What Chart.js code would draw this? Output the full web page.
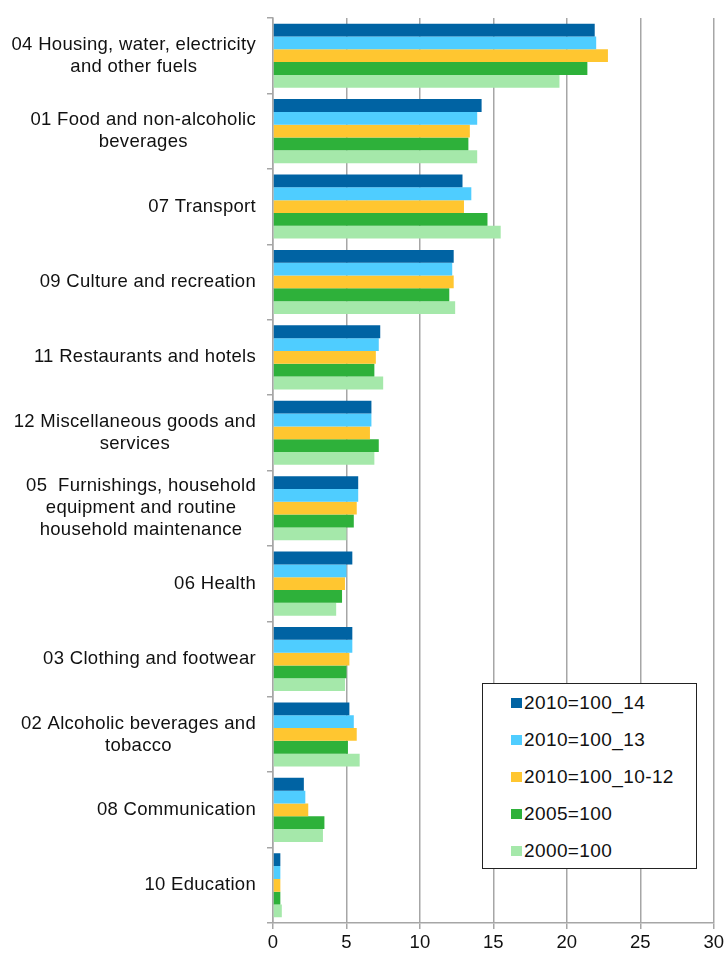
<!DOCTYPE html>
<html lang="en">

<head>
    <meta charset="UTF-8">
    <title>Weights by category</title>
    <script src="https://cdn.jsdelivr.net/npm/chart.js"></script>
    <style>
        body {
            margin: 0;
            padding: 0;
            background-color: #ffffff;
            font-family: 'Liberation Sans', Arial, sans-serif;
        }

        .wrap {
            position: relative;
            width: 727px;
            height: 954px;
        }

        .legend-box {
            position: absolute;
            left: 482px;
            top: 683px;
            width: 215px;
            height: 186px;
            border: 1.5px solid #222;
            background: #fff;
            box-sizing: border-box;
            padding-top: 0px;
        }

        .legend-item {
            display: flex;
            align-items: center;
            height: 37px;
            padding-left: 28px;
            font-size: 19px;
            letter-spacing: 0.4px;
            color: #111;
        }

        .legend-item span.sw {
            width: 11px;
            height: 10px;
            margin-right: 2px;
        }
    </style>
</head>

<body>
    <div class="wrap">
        <canvas id="weightsChart" width="727" height="954"></canvas>
        <div class="legend-box" id="legend"></div>
    </div>

    <script>
        // categories (lines of each label)
        const categories = [
            ['04 Housing, water, electricity', 'and other fuels'],
            ['01 Food and non-alcoholic', 'beverages'],
            ['07 Transport'],
            ['09 Culture and recreation'],
            ['11 Restaurants and hotels '],
            ['12 Miscellaneous goods and', 'services'],
            ['05  Furnishings, household', 'equipment and routine', 'household maintenance'],
            ['06 Health'],
            ['03 Clothing and footwear'],
            ['02 Alcoholic beverages and', 'tobacco'],
            ['08 Communication'],
            ['10 Education']
        ];

        const seriesNames = ['2010=100_14', '2010=100_13', '2010=100_10-12', '2005=100', '2000=100'];
        const seriesColors = ['#0063a3', '#4fcdff', '#ffc630', '#2eb13a', '#a5e8aa'];

        const base2010_14 = [21.9, 14.2, 12.9, 12.3, 7.3, 6.7, 5.8, 5.4, 5.4, 5.2, 2.1, 0.5];
        const base2010_13 = [22.0, 13.9, 13.5, 12.2, 7.2, 6.7, 5.8, 5.0, 5.4, 5.5, 2.2, 0.5];
        const base2010_10_12 = [22.8, 13.4, 13.0, 12.3, 7.0, 6.6, 5.7, 4.9, 5.2, 5.7, 2.4, 0.5];
        const base2005 = [21.4, 13.3, 14.6, 12.0, 6.9, 7.2, 5.5, 4.7, 5.0, 5.1, 3.5, 0.5];
        const base2000 = [19.5, 13.9, 15.5, 12.4, 7.5, 6.9, 5.0, 4.3, 4.9, 5.9, 3.4, 0.6];

        const seriesValues = [base2010_14, base2010_13, base2010_10_12, base2005, base2000];

        const xTicks = [0, 5, 10, 15, 20, 25, 30];

        const labelFont = "18.5px 'Liberation Sans', Arial, sans-serif";

        // Legend
        const legend = document.getElementById('legend');
        seriesNames.forEach((name, i) => {
            const item = document.createElement('div');
            item.className = 'legend-item';
            item.innerHTML = '<span class="sw" style="background:' + seriesColors[i] + '"></span>' + name;
            legend.appendChild(item);
        });

        // draws the category labels: lines centred among themselves, block right-aligned
        const categoryLabels = {
            id: 'categoryLabels',
            afterDraw(chart) {
                const ctx = chart.ctx;
                const y = chart.scales.y;
                const right = chart.chartArea.left - 17;
                const lineH = 22;
                ctx.save();
                ctx.font = labelFont;
                ctx.letterSpacing = '0.3px';
                ctx.fillStyle = '#111';
                ctx.textAlign = 'center';
                ctx.textBaseline = 'middle';
                categories.forEach((lines, i) => {
                    const maxW = Math.max(...lines.map(l => ctx.measureText(l.trimEnd()).width));
                    const cx = right - maxW / 2;
                    const cy = y.getPixelForValue(i);
                    lines.forEach((line, j) => {
                        ctx.fillText(line.trimEnd(), cx, cy + (j - (lines.length - 1) / 2) * lineH);
                    });
                });
                ctx.restore();
            }
        };

        const ctx = document.getElementById('weightsChart').getContext('2d');
        const weightsChart = new Chart(ctx, {
            type: 'bar',
            data: {
                labels: categories.map(c => c.join(' ')),
                datasets: seriesNames.map((name, i) => ({
                    label: name,
                    data: seriesValues[i],
                    backgroundColor: seriesColors[i],
                    borderWidth: 0,
                    categoryPercentage: 0.85,
                    barPercentage: 1.0
                }))
            },
            options: {
                indexAxis: 'y',
                responsive: false,
                animation: false,
                layout: {
                    padding: { top: 18, right: 12, left: 0, bottom: 0 }
                },
                plugins: {
                    legend: { display: false },
                    tooltip: { enabled: false }
                },
                scales: {
                    x: {
                        min: 0,
                        max: 30,
                        afterBuildTicks: (scale) => {
                            scale.ticks = xTicks.map(v => ({ value: v }));
                        },
                        afterFit: (scale) => {
                            scale.height = 31;
                        },
                        grid: {
                            color: '#a6a6a6',
                            lineWidth: 1.5,
                            tickLength: 6
                        },
                        border: {
                            color: '#a6a6a6',
                            width: 1.5
                        },
                        ticks: {
                            color: '#111',
                            padding: 3,
                            maxRotation: 0,
                            font: { family: "'Liberation Sans', Arial, sans-serif", size: 18.5 }
                        }
                    },
                    y: {
                        afterFit: (scale) => {
                            scale.width = 273;
                        },
                        grid: {
                            drawOnChartArea: false,
                            offset: true,
                            color: '#a6a6a6',
                            lineWidth: 1.5,
                            tickLength: 6
                        },
                        border: {
                            color: '#a6a6a6',
                            width: 1.5
                        },
                        ticks: {
                            display: false
                        }
                    }
                }
            },
            plugins: [categoryLabels]
        });
    </script>
</body>

</html>
